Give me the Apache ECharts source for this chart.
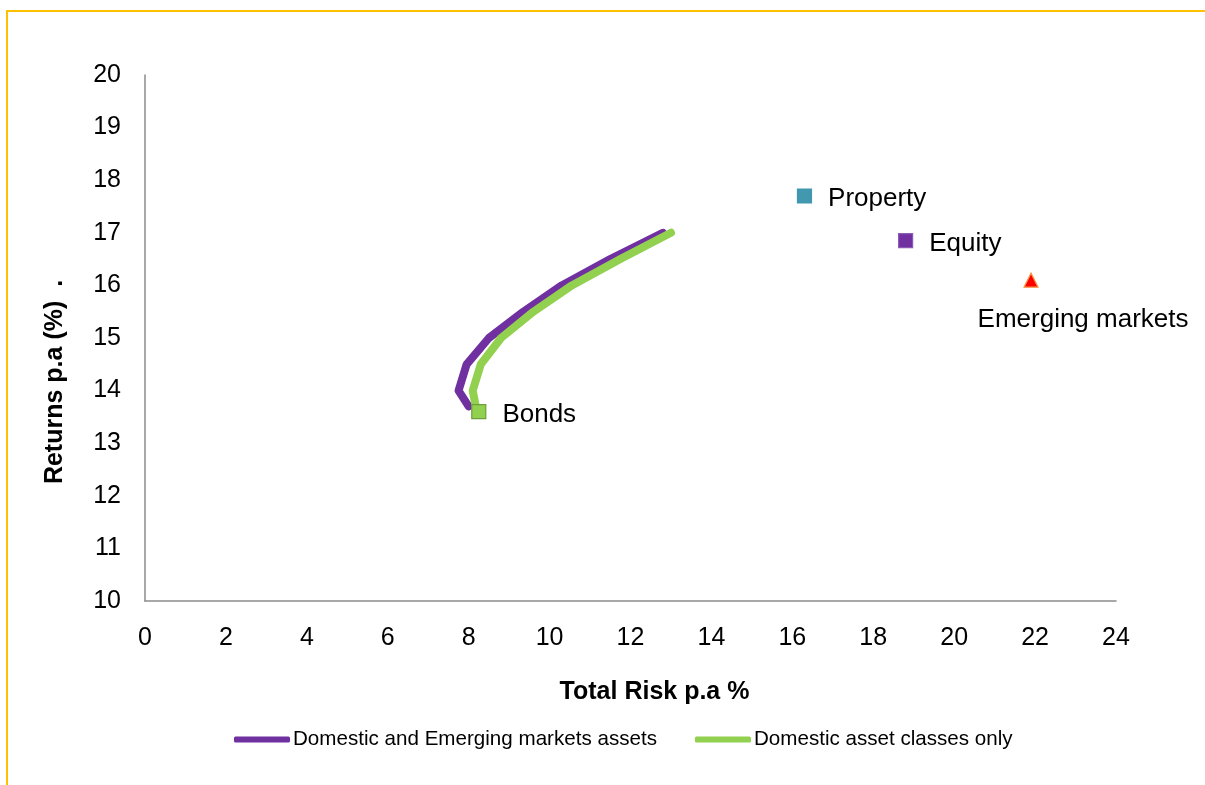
<!DOCTYPE html>
<html>
<head>
<meta charset="utf-8">
<script src="https://cdn.jsdelivr.net/npm/echarts@6/dist/echarts.min.js"></script>
<style>
  html, body { margin: 0; padding: 0; background: #ffffff; }
  #chart { width: 1205px; height: 785px; }
</style>
</head>
<body>
<div id="chart"></div>
<script>
// Efficient frontiers: [total risk %, return %] along each frontier
const domesticAndEmerging = [
  [8.0, 13.7], [7.75, 14.0], [7.95, 14.5], [8.5, 15.0],
  [9.35, 15.5], [10.3, 16.0], [11.5, 16.5], [12.8, 17.0]
];
const domesticOnly = [
  [8.2, 13.6], [8.1, 14.0], [8.3, 14.5], [8.8, 15.0],
  [9.6, 15.5], [10.55, 16.0], [11.75, 16.5], [13.0, 17.0]
];

// Individual asset classes: [total risk %, return %]
const assetNames = ['Bonds', 'Property', 'Equity', 'Emerging markets'];
const assetPoints = [
  [8.25, 13.6],
  [16.3, 17.7],
  [18.8, 16.85],
  [21.9, 16.1]
];

const seriesNames = ['Domestic and Emerging markets assets', 'Domestic asset classes only'];
const axisTitles = { x: 'Total Risk p.a %', y: 'Returns p.a (%)  .' };

const FONT = '"Liberation Sans", Arial, sans-serif';
const axisGrey = '#8c8c8c';

const assetStyles = [
  { symbol: 'rect', color: '#92D050', border: '#6f9e3a', pos: 'right', offset: [0, 3] },
  { symbol: 'rect', color: '#4198AF', border: '#4198AF', pos: 'right', offset: [0, 3] },
  { symbol: 'rect', color: '#7030A0', border: '#8a5ab5', pos: 'right', offset: [0, 3] },
  { symbol: 'triangle', color: '#FF0000', border: '#F79646', pos: 'bottom', offset: [52, 3] }
];

const assetSeries = assetNames.map((name, i) => ({
  name: name,
  type: 'scatter',
  symbol: assetStyles[i].symbol,
  symbolSize: 14,
  z: 5,
  itemStyle: {
    color: assetStyles[i].color,
    borderColor: assetStyles[i].border,
    borderWidth: 1.2,
    opacity: 1
  },
  label: {
    show: true,
    formatter: name,
    position: assetStyles[i].pos,
    distance: 16,
    offset: assetStyles[i].offset,
    color: '#000000',
    opacity: 1,
    fontFamily: FONT,
    fontSize: 26
  },
  emphasis: { disabled: true },
  data: [assetPoints[i]]
}));

const chart = echarts.init(document.getElementById('chart'), null, { renderer: 'canvas' });

chart.setOption({
  animation: false,
  backgroundColor: '#ffffff',
  graphic: [{
    type: 'rect',
    shape: { x: 7, y: 11, width: 1400, height: 1000 },
    style: { fill: 'none', stroke: '#FFC000', lineWidth: 2 },
    silent: true,
    z: -10
  }],
  grid: { left: 145, right: 89, top: 75, bottom: 184, containLabel: false },
  xAxis: {
    type: 'value',
    min: 0, max: 24, interval: 2,
    name: axisTitles.x,
    nameLocation: 'middle',
    nameGap: 79,
    nameTextStyle: { fontFamily: FONT, fontSize: 25, fontWeight: 'bold', color: '#000', padding: [0, 0, 0, 48] },
    axisLine: { show: true, onZero: false, lineStyle: { color: axisGrey, width: 1.5 } },
    axisTick: { show: false },
    splitLine: { show: false },
    axisLabel: { fontFamily: FONT, fontSize: 25, color: '#000', margin: 25 }
  },
  yAxis: {
    type: 'value',
    min: 10, max: 20, interval: 1,
    name: axisTitles.y,
    nameLocation: 'middle',
    nameGap: 77,
    nameRotate: 90,
    nameTextStyle: { fontFamily: FONT, fontSize: 25, fontWeight: 'bold', color: '#000', padding: [0, 88, 0, 0] },
    axisLine: { show: true, onZero: false, lineStyle: { color: axisGrey, width: 1.5 } },
    axisTick: { show: false },
    splitLine: { show: false },
    axisLabel: { fontFamily: FONT, fontSize: 25, color: '#000', margin: 24 }
  },
  legend: {
    data: seriesNames,
    top: 724,
    left: 229,
    itemWidth: 56,
    itemHeight: 6,
    itemGap: 38,
    icon: 'roundRect',
    textStyle: { fontFamily: FONT, fontSize: 20.6, color: '#000', padding: [0, 0, 0, -2] },
    selectedMode: false
  },
  series: [
    {
      name: seriesNames[0],
      type: 'line',
      showSymbol: false,
      symbol: 'none',
      color: '#7030A0',
      lineStyle: { color: '#7030A0', width: 8, cap: 'round', join: 'round' },
      z: 3,
      data: domesticAndEmerging
    },
    {
      name: seriesNames[1],
      type: 'line',
      showSymbol: false,
      symbol: 'none',
      color: '#92D050',
      lineStyle: { color: '#92D050', width: 8, cap: 'round', join: 'round' },
      z: 3,
      data: domesticOnly
    }
  ].concat(assetSeries)
});
</script>
</body>
</html>
